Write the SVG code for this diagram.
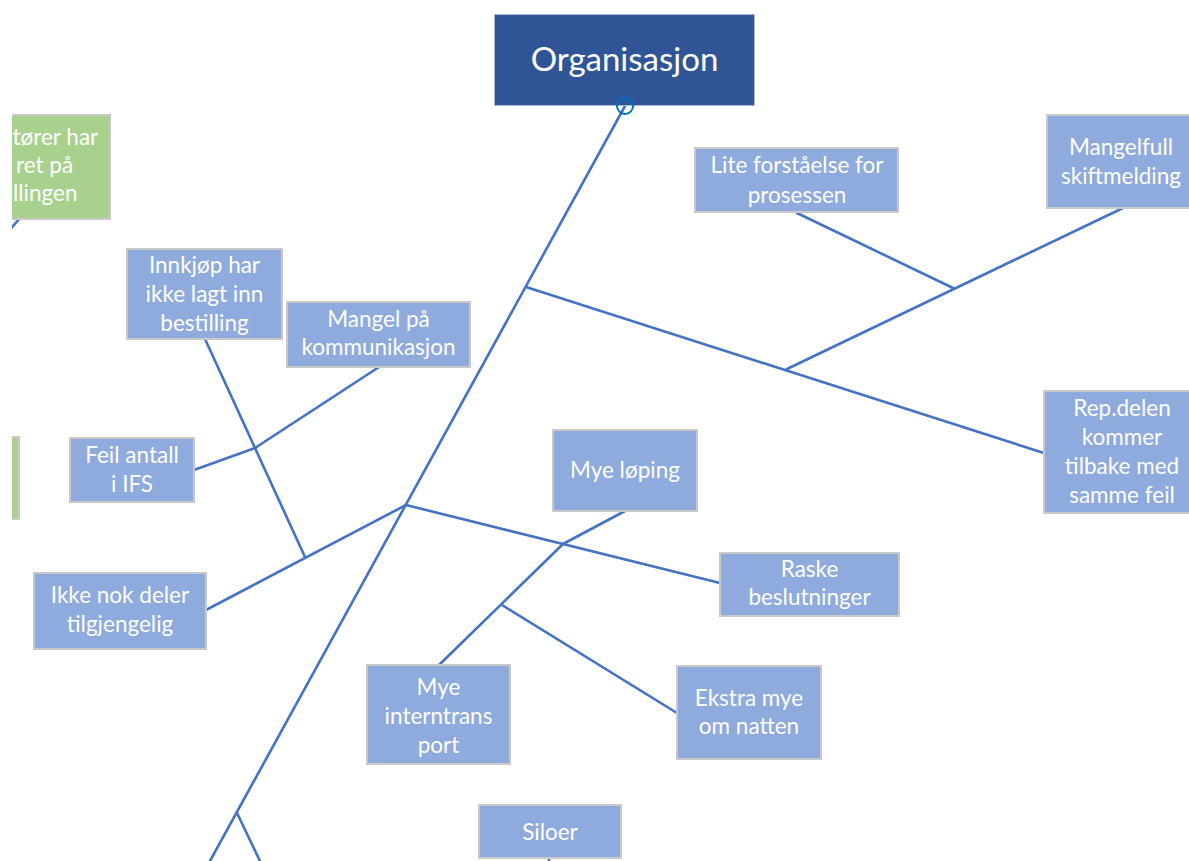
<svg xmlns="http://www.w3.org/2000/svg" width="1189" height="861" viewBox="0 0 1189 861">
  <defs>
    <clipPath id="leftEdge">
      <rect x="12" y="0" width="1177" height="861"/>
    </clipPath>
  </defs>
  <style>
    .box { fill: #8faadc; stroke: #c9c9c9; stroke-width: 2; }
    .green { fill: #a9d18e; stroke: #c9c9c9; stroke-width: 2; }
    .lbl { font-family: Lato, "Liberation Sans", sans-serif; font-size: 22.5px; fill: #ffffff; text-anchor: middle; }
    .lbl-start { text-anchor: start; }
    .title { font-family: Lato, "Liberation Sans", sans-serif; font-size: 33px; fill: #ffffff; text-anchor: middle; }
    .conn line, .conn polyline { stroke: #4472c4; stroke-width: 2.6; fill: none; stroke-linecap: round; stroke-linejoin: round; }
  </style>
  <rect width="1189" height="861" fill="#ffffff"/>

  <!-- connectors -->
  <g id="connectors" class="conn">
    <!-- spine -->
    <line x1="625" y1="106" x2="210" y2="861"/>
    <line x1="237" y1="813" x2="260" y2="861"/>
    <!-- upper right branch -->
    <line x1="526" y1="287" x2="1044" y2="453"/>
    <line x1="787" y1="369" x2="1123" y2="208"/>
    <line x1="953" y1="288" x2="797" y2="213"/>
    <!-- left branch -->
    <line x1="406" y1="505" x2="206" y2="610"/>
    <line x1="305" y1="557" x2="205" y2="339"/>
    <polyline points="379,367 255,448 194,470"/>
    <!-- middle branches -->
    <line x1="406" y1="505" x2="720" y2="583"/>
    <polyline points="625,511 563,544 438,666"/>
    <line x1="502" y1="605" x2="677" y2="713"/>
    <!-- stubs -->
    <line x1="549" y1="856" x2="549" y2="865"/>
    <g clip-path="url(#leftEdge)">
      <line x1="20" y1="218" x2="8" y2="232"/>
    </g>
  </g>

  <!-- head -->
  <g id="head">
    <rect x="494.5" y="14.5" width="260" height="91" fill="#2f5597" stroke="#a9b9d6" stroke-width="1"/>
    <text class="title" x="624.5" y="71">Organisasjon</text>
    <circle cx="625" cy="106" r="8" fill="none" stroke="#0070c0" stroke-width="2"/>
  </g>

  <!-- partially visible nodes at the left edge -->
  <g id="node-green-top" clip-path="url(#leftEdge)">
    <rect class="green" x="-60" y="115" width="170" height="104"/>
    <text class="lbl lbl-start" x="12.5" y="145">tører har</text>
    <text class="lbl lbl-start" x="16" y="173">ret på</text>
    <text class="lbl lbl-start" x="13" y="201">llingen</text>
  </g>
  <g id="node-green-side" clip-path="url(#leftEdge)">
    <rect class="green" x="-60" y="437" width="79" height="82"/>
  </g>

  <g id="node-lite">
    <rect class="box" x="695" y="148" width="203" height="64"/>
    <text class="lbl" x="797" y="173">Lite forståelse for</text>
    <text class="lbl" x="797" y="203">prosessen</text>
  </g>
  <g id="node-mangelfull">
    <rect class="box" x="1047" y="115" width="150" height="93"/>
    <text class="lbl" x="1121" y="155">Mangelfull</text>
    <text class="lbl" x="1121" y="184">skiftmelding</text>
  </g>
  <g id="node-repdelen">
    <rect class="box" x="1044" y="391" width="153" height="122"/>
    <text class="lbl" x="1122" y="416">Rep.delen</text>
    <text class="lbl" x="1122" y="445">kommer</text>
    <text class="lbl" x="1122" y="474">tilbake med</text>
    <text class="lbl" x="1122" y="503">samme feil</text>
  </g>
  <g id="node-innkjop">
    <rect class="box" x="127" y="249" width="155" height="90"/>
    <text class="lbl" x="204.5" y="273">Innkjøp har</text>
    <text class="lbl" x="204.5" y="302">ikke lagt inn</text>
    <text class="lbl" x="204.5" y="331">bestilling</text>
  </g>
  <g id="node-mangel">
    <rect class="box" x="287" y="302" width="183" height="65"/>
    <text class="lbl" x="378.5" y="327">Mangel på</text>
    <text class="lbl" x="378.5" y="355">kommunikasjon</text>
  </g>
  <g id="node-feil">
    <rect class="box" x="70" y="438" width="124" height="64"/>
    <text class="lbl" x="132" y="463">Feil antall</text>
    <text class="lbl" x="132" y="492">i IFS</text>
  </g>
  <g id="node-ikke-nok">
    <rect class="box" x="34" y="573" width="172" height="76"/>
    <text class="lbl" x="120" y="603">Ikke nok deler</text>
    <text class="lbl" x="120" y="632">tilgjengelig</text>
  </g>
  <g id="node-mye-loping">
    <rect class="box" x="553" y="430" width="144" height="81"/>
    <text class="lbl" x="625" y="478">Mye løping</text>
  </g>
  <g id="node-raske">
    <rect class="box" x="720" y="553" width="179" height="63"/>
    <text class="lbl" x="809.5" y="577">Raske</text>
    <text class="lbl" x="809.5" y="605">beslutninger</text>
  </g>
  <g id="node-interntransport">
    <rect class="box" x="367" y="665" width="143" height="99"/>
    <text class="lbl" x="438.5" y="695">Mye</text>
    <text class="lbl" x="438.5" y="724">interntrans</text>
    <text class="lbl" x="438.5" y="753">port</text>
  </g>
  <g id="node-ekstra">
    <rect class="box" x="677" y="666" width="144" height="93"/>
    <text class="lbl" x="749" y="706">Ekstra mye</text>
    <text class="lbl" x="749" y="734">om natten</text>
  </g>
  <g id="node-siloer">
    <rect class="box" x="479" y="805" width="142" height="53"/>
    <text class="lbl" x="550" y="840">Siloer</text>
  </g>
</svg>
